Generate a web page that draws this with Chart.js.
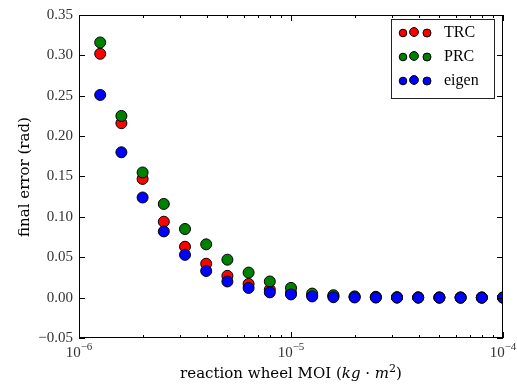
<!DOCTYPE html>
<html>
<head>
<meta charset="utf-8">
<script src="https://cdn.jsdelivr.net/npm/chart.js@4"></script>
<style>
  html, body { margin: 0; padding: 0; background: #fff; }
  #wrap { width: 517px; height: 385px; }
</style>
</head>
<body>
<div id="wrap"><canvas id="moiChart" width="517" height="385"></canvas></div>
<script>
// momentos de inércia testados (kg·m²)
const moi = [1.2589e-6, 1.5849e-6, 1.9953e-6, 2.5119e-6, 3.1623e-6, 3.9811e-6, 5.0119e-6,
             6.3096e-6, 7.9433e-6, 1.0e-5, 1.2589e-5, 1.5849e-5, 1.9953e-5, 2.5119e-5,
             3.1623e-5, 3.9811e-5, 5.0119e-5, 6.3096e-5, 7.9433e-5, 1.0e-4];

// erro final (rad) para cada controlador
const trc   = [0.302, 0.216, 0.147, 0.094, 0.063, 0.042, 0.027, 0.017, 0.010, 0.006,
               0.003, 0.002, 0.001, 0.0005, 0.0003, 0.0002, 0.0001, 0.0001, 0.0001, 0.0001];
const prc   = [0.316, 0.225, 0.155, 0.116, 0.085, 0.066, 0.047, 0.031, 0.020, 0.012,
               0.005, 0.003, 0.0015, 0.001, 0.0005, 0.0003, 0.0002, 0.0001, 0.0001, 0.0001];
const eigen = [0.251, 0.180, 0.124, 0.082, 0.053, 0.033, 0.020, 0.012, 0.0065, 0.004,
               0.0015, 0.0005, 0.0002, 0.0001, 0, 0, 0, 0, 0, 0];

const yTicks = [-0.05, 0.00, 0.05, 0.10, 0.15, 0.20, 0.25, 0.30, 0.35];
const xDecades = [-6, -5, -4];

const serif = "'Liberation Serif', 'DejaVu Serif', serif";
const titleFont = "'DejaVu Serif', serif";

function toPoints(values) {
    return values.map((v, i) => ({ x: moi[i], y: v }));
}

// desenha moldura, ticks internos, rótulos do eixo x e a legenda
const axesPlugin = {
    id: 'axesPlugin',
    afterDraw(chart) {
        const ctx = chart.ctx;
        const area = chart.chartArea;
        const xs = chart.scales.x;
        const ys = chart.scales.y;

        ctx.save();
        ctx.strokeStyle = '#000';
        ctx.lineWidth = 1;
        ctx.strokeRect(area.left + 0.5, area.top + 0.5, area.right - area.left - 1, area.bottom - area.top - 1);

        // ticks do eixo x (maiores e menores)
        ctx.beginPath();
        for (let e = xDecades[0]; e < xDecades[xDecades.length - 1] + 1; e++) {
            for (let m = 1; m <= 9; m++) {
                const v = m * Math.pow(10, e);
                if (v > xs.max * 1.0001) continue;
                const px = Math.round(xs.getPixelForValue(v)) + 0.5;
                const len = m === 1 ? 6 : 3;
                ctx.moveTo(px, area.bottom);
                ctx.lineTo(px, area.bottom - len);
                ctx.moveTo(px, area.top);
                ctx.lineTo(px, area.top + len);
            }
        }
        // ticks do eixo y
        yTicks.forEach(v => {
            const py = Math.round(ys.getPixelForValue(v)) + 0.5;
            ctx.moveTo(area.left, py);
            ctx.lineTo(area.left + 6, py);
            ctx.moveTo(area.right, py);
            ctx.lineTo(area.right - 6, py);
        });
        ctx.stroke();

        // rótulos 10^n
        ctx.fillStyle = '#333';
        ctx.textBaseline = 'alphabetic';
        xDecades.forEach(e => {
            const px = xs.getPixelForValue(Math.pow(10, e));
            ctx.font = `15px ${serif}`;
            const base = '10';
            const wBase = ctx.measureText(base).width;
            ctx.font = `11px ${serif}`;
            const exp = '\u2212' + Math.abs(e);
            const wExp = ctx.measureText(exp).width;
            const x0 = px - (wBase + wExp) / 2;
            ctx.font = `15px ${serif}`;
            ctx.textAlign = 'left';
            ctx.fillText(base, x0, 357);
            ctx.font = `11px ${serif}`;
            ctx.fillText(exp, x0 + wBase, 350);
        });

        // título do eixo x com partes em itálico
        ctx.fillStyle = '#000';
        const parts = [
            { t: 'reaction wheel MOI (', f: `15px ${titleFont}`, dy: 0 },
            { t: 'kg', f: `italic 15px ${titleFont}`, dy: 0 },
            { t: ' \u00b7 ', f: `15px ${titleFont}`, dy: 0 },
            { t: 'm', f: `italic 15px ${titleFont}`, dy: 0 },
            { t: '2', f: `11px ${titleFont}`, dy: -6 },
            { t: ')', f: `15px ${titleFont}`, dy: 0 }
        ];
        let total = 0;
        parts.forEach(p => { ctx.font = p.f; p.w = ctx.measureText(p.t).width; total += p.w; });
        let cx = (area.left + area.right) / 2 - total / 2;
        parts.forEach(p => {
            ctx.font = p.f;
            ctx.fillText(p.t, cx, 378 + p.dy);
            cx += p.w;
        });

        // título do eixo y
        ctx.save();
        ctx.translate(29, 177);
        ctx.rotate(-Math.PI / 2);
        ctx.font = `15px ${titleFont}`;
        ctx.textAlign = 'center';
        ctx.fillText('final error (rad)', 0, 0);
        ctx.restore();

        // legenda com três marcadores por série
        const lx = 391, ly = 19, lw = 103, lh = 79;
        ctx.fillStyle = '#fff';
        ctx.fillRect(lx, ly, lw, lh);
        ctx.strokeStyle = '#222';
        ctx.strokeRect(lx + 0.5, ly + 0.5, lw, lh);
        const sizes = [3.8, 4.4, 4.0];
        const offs = [403, 414, 427];
        chart.data.datasets.forEach((ds, i) => {
            const y = 33 + i * 24;
            offs.forEach((ox, k) => {
                ctx.beginPath();
                ctx.arc(ox, y + (k === 1 ? -1 : 0), sizes[k], 0, Math.PI * 2);
                ctx.fillStyle = ds.backgroundColor;
                ctx.fill();
                ctx.strokeStyle = '#000';
                ctx.stroke();
            });
            ctx.fillStyle = '#000';
            ctx.font = `16px ${serif}`;
            ctx.textAlign = 'left';
            ctx.textBaseline = 'middle';
            ctx.fillText(ds.label, 444, y);
        });
        ctx.restore();
    }
};

const ctx = document.getElementById('moiChart').getContext('2d');

new Chart(ctx, {
    type: 'scatter',
    data: {
        datasets: [
            { label: 'TRC', data: toPoints(trc), backgroundColor: '#ff0000', order: 3 },
            { label: 'PRC', data: toPoints(prc), backgroundColor: '#008000', order: 2 },
            { label: 'eigen', data: toPoints(eigen), backgroundColor: '#0000ff', order: 1 }
        ].map(ds => Object.assign(ds, {
            borderColor: '#000',
            borderWidth: 1,
            pointRadius: 5.5,
            pointHoverRadius: 5.5,
            clip: 0
        }))
    },
    options: {
        responsive: false,
        animation: false,
        devicePixelRatio: 1,
        layout: { padding: { top: 11, right: 14, left: 0, bottom: 0 } },
        plugins: {
            legend: { display: false },
            tooltip: { enabled: false }
        },
        scales: {
            x: {
                type: 'logarithmic',
                min: 1e-6,
                max: 1e-4,
                grid: { display: false, drawTicks: false },
                border: { display: false },
                ticks: { display: false },
                afterFit(scale) { scale.height = 47; }
            },
            y: {
                type: 'linear',
                min: -0.05,
                max: 0.35,
                grid: { display: false, drawTicks: false },
                border: { display: false },
                afterBuildTicks(scale) { scale.ticks = yTicks.map(v => ({ value: v })); },
                ticks: {
                    color: '#333',
                    padding: 6,
                    font: { family: serif, size: 15 },
                    callback: v => v.toFixed(2).replace('-', '\u2212')
                },
                afterFit(scale) { scale.width = 79; }
            }
        }
    },
    plugins: [axesPlugin]
});
</script>
</body>
</html>
